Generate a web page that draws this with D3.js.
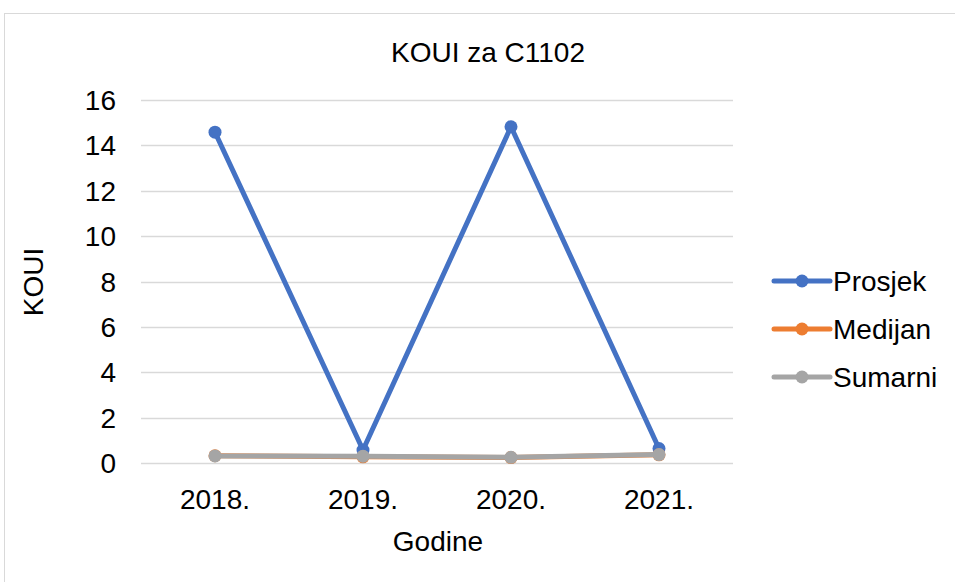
<!DOCTYPE html>
<html>
<head>
<meta charset="utf-8">
<script src="https://cdn.jsdelivr.net/npm/d3@7"></script>
<style>
  body { margin: 0; background: #fff; }
  text { font-family: "Liberation Sans", Arial, sans-serif; fill: #000; }
</style>
</head>
<body>
<svg width="955" height="582"></svg>
<script>
var years = ["2018.", "2019.", "2020.", "2021."];
var prosjek = [14.58, 0.57, 14.82, 0.64];
var medijan = [0.32, 0.27, 0.24, 0.36];
var sumarni = [0.31, 0.30, 0.25, 0.37];
var seriesNames = ["Prosjek", "Medijan", "Sumarni"];
var colors = ["#4472C4", "#ED7D31", "#A5A5A5"];
var yTicks = [0, 2, 4, 6, 8, 10, 12, 14, 16];

var svg = d3.select("svg"),
    width = +svg.attr("width"),
    height = +svg.attr("height");

var FS = "28px";

// chart frame
svg.append("rect")
    .attr("x", 4.5).attr("y", 13.5)
    .attr("width", 960).attr("height", 600)
    .attr("fill", "none")
    .attr("stroke", "#d9d9d9");

var margin = {left: 141, right: 733, top: 100, bottom: 463};

var x = d3.scalePoint()
    .domain(years)
    .range([215, 659]);

var y = d3.scaleLinear()
    .domain([0, 16])
    .range([margin.bottom, margin.top]);

// gridlines
svg.append("g")
  .selectAll("line")
    .data(yTicks)
  .enter().append("line")
    .attr("x1", margin.left).attr("x2", margin.right)
    .attr("y1", function(d) { return Math.round(y(d)) + 0.5; })
    .attr("y2", function(d) { return Math.round(y(d)) + 0.5; })
    .attr("stroke", "#d9d9d9")
    .attr("stroke-width", 1.3);

// y tick labels
svg.append("g")
  .selectAll("text")
    .data(yTicks)
  .enter().append("text")
    .attr("x", 116)
    .attr("y", function(d) { return y(d); })
    .attr("dy", "0.36em")
    .attr("text-anchor", "end")
    .style("font-size", FS)
    .text(function(d) { return d; });

// x tick labels
svg.append("g")
  .selectAll("text")
    .data(years)
  .enter().append("text")
    .attr("x", function(d) { return x(d); })
    .attr("y", 509)
    .attr("text-anchor", "middle")
    .style("font-size", FS)
    .text(function(d) { return d; });

// titles
svg.append("text")
    .attr("x", 488).attr("y", 62)
    .attr("text-anchor", "middle")
    .style("font-size", FS)
    .text("KOUI za C1102");

svg.append("text")
    .attr("x", 438).attr("y", 551)
    .attr("text-anchor", "middle")
    .style("font-size", FS)
    .text("Godine");

svg.append("text")
    .attr("transform", "translate(33,282) rotate(-90)")
    .attr("dy", "0.36em")
    .attr("text-anchor", "middle")
    .style("font-size", FS)
    .text("KOUI");

// series (drawn in order so gray ends on top)
var allSeries = [prosjek, medijan, sumarni];
var line = d3.line()
    .x(function(d, i) { return x(years[i]); })
    .y(function(d) { return y(d); });

allSeries.forEach(function(vals, k) {
  var g = svg.append("g");
  g.append("path")
      .datum(vals)
      .attr("d", line)
      .attr("fill", "none")
      .attr("stroke", colors[k])
      .attr("stroke-width", 5)
      .attr("stroke-linejoin", "round");
  g.selectAll("circle")
      .data(vals)
    .enter().append("circle")
      .attr("cx", function(d, i) { return x(years[i]); })
      .attr("cy", function(d) { return y(d); })
      .attr("r", 6.5)
      .attr("fill", colors[k]);
});

// legend
var legend = svg.append("g")
  .selectAll("g")
    .data(seriesNames)
  .enter().append("g")
    .attr("transform", function(d, i) { return "translate(774," + (281 + i * 48) + ")"; });

legend.append("line")
    .attr("x1", 0).attr("x2", 56)
    .attr("stroke", function(d, i) { return colors[i]; })
    .attr("stroke-width", 5)
    .attr("stroke-linecap", "round");

legend.append("circle")
    .attr("cx", 28).attr("r", 6.5)
    .attr("fill", function(d, i) { return colors[i]; });

legend.append("text")
    .attr("x", 59)
    .attr("dy", "0.36em")
    .style("font-size", FS)
    .text(function(d) { return d; });
</script>
</body>
</html>
